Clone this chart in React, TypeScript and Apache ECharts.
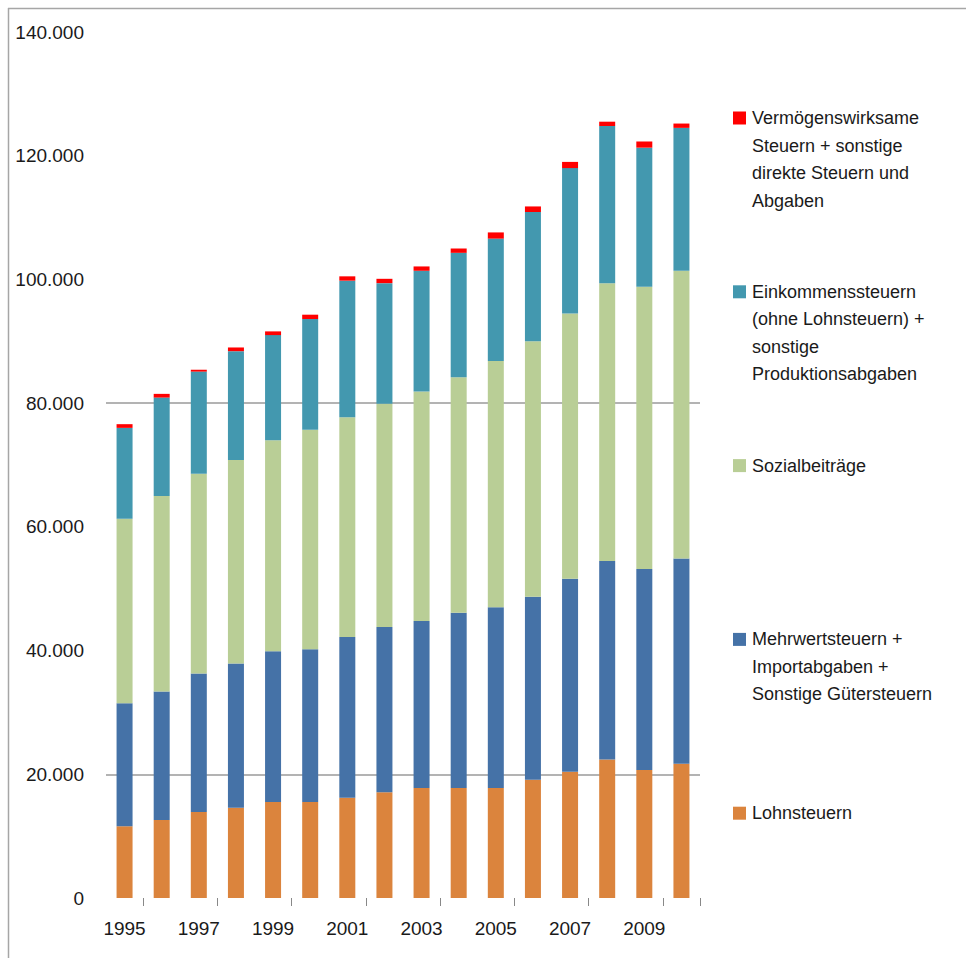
import React, { useEffect, useRef } from 'react';
import * as echarts from 'echarts';

const years = ['1995', '1996', '1997', '1998', '1999', '2000', '2001', '2002', '2003', '2004', '2005', '2006', '2007', '2008', '2009', '2010'];

// stacked from bottom to top
const lohnsteuern = [11600, 12600, 13900, 14600, 15500, 15500, 16200, 17100, 17800, 17800, 17800, 19100, 20400, 22400, 20700, 21700];
const mehrwertsteuern = [19900, 20800, 22400, 23300, 24400, 24700, 26000, 26700, 27000, 28300, 29200, 29600, 31200, 32100, 32500, 33200];
const sozialbeitraege = [29800, 31600, 32300, 32900, 34100, 35500, 35500, 36100, 37100, 38100, 39800, 41300, 42900, 44900, 45600, 46500];
const einkommenssteuern = [14700, 15900, 16500, 17600, 17000, 17900, 22100, 19500, 19500, 20100, 19800, 20900, 23500, 25400, 22500, 23100];
const vermoegenssteuern = [600, 600, 300, 600, 600, 700, 700, 700, 700, 700, 1000, 900, 1000, 700, 1000, 700];

const seriesNames = [
  'Lohnsteuern',
  'Mehrwertsteuern + Importabgaben + Sonstige Gütersteuern',
  'Sozialbeiträge',
  'Einkommenssteuern (ohne Lohnsteuern) + sonstige Produktionsabgaben',
  'Vermögenswirksame Steuern + sonstige direkte Steuern und Abgaben',
];
const seriesData = [lohnsteuern, mehrwertsteuern, sozialbeitraege, einkommenssteuern, vermoegenssteuern];
const seriesColors = ['#DB843D', '#4572A7', '#B9CE96', '#4398AF', '#FF0000'];

// legend, top to bottom
const legendLabels = [
  'Vermögenswirksame\nSteuern + sonstige\ndirekte Steuern und\nAbgaben',
  'Einkommenssteuern\n(ohne Lohnsteuern) +\nsonstige\nProduktionsabgaben',
  'Sozialbeiträge',
  'Mehrwertsteuern +\nImportabgaben +\nSonstige Gütersteuern',
  'Lohnsteuern',
];
const legendColors = ['#FF0000', '#4398AF', '#B9CE96', '#4572A7', '#DB843D'];

const yMin = 0;
const yMax = 140000;
const yInterval = 20000;
const gridLineValues = [20000, 80000];

const FONT = "'Liberation Sans', Arial, sans-serif";

function formatThousands(v: number): string {
  return String(v).replace(/\B(?=(\d{3})+(?!\d))/g, '.');
}

export default function App() {
  const ref = useRef<HTMLDivElement>(null);

  useEffect(() => {
    if (!ref.current) return;
    const chart = echarts.init(ref.current, undefined, { renderer: 'svg' });

    const legendGraphics: any[] = [];
    legendLabels.forEach((label, i) => {
      const cy = 118 + i * 173.8;
      legendGraphics.push({
        type: 'rect',
        shape: { x: 733, y: cy - 6.5, width: 13, height: 13 },
        style: { fill: legendColors[i] },
      });
      legendGraphics.push({
        type: 'text',
        x: 752,
        y: cy - 13.75,
        style: {
          text: label,
          fontSize: 18,
          lineHeight: 27.5,
          fontFamily: FONT,
          fill: '#1a1a1a',
          verticalAlign: 'top',
          align: 'left',
        },
      });
    });

    const series: any[] = seriesNames.map((name, i) => ({
      name,
      type: 'bar',
      stack: 'total',
      barWidth: 16,
      data: seriesData[i],
      itemStyle: { color: seriesColors[i] },
      emphasis: { disabled: true },
      ...(i === 0
        ? {
            markLine: {
              z: 1,
              silent: true,
              symbol: 'none',
              label: { show: false },
              lineStyle: { color: '#9a9a9a', width: 1.5, type: 'solid' },
              data: gridLineValues.map((v) => ({ yAxis: v })),
            },
          }
        : {}),
    }));

    chart.setOption({
      animation: false,
      backgroundColor: '#ffffff',
      textStyle: { fontFamily: FONT },
      grid: { left: 106, right: 266, top: 32, bottom: 60, containLabel: false },
      xAxis: {
        type: 'category',
        data: years,
        boundaryGap: true,
        axisLine: { show: false },
        axisTick: {
          show: true,
          length: 8,
          interval: (index: number) => index % 2 === 1,
          lineStyle: { color: '#888888', width: 1 },
        },
        axisLabel: {
          interval: 1,
          fontSize: 19,
          color: '#1a1a1a',
          margin: 21,
          fontFamily: FONT,
        },
        splitLine: { show: false },
      },
      yAxis: {
        type: 'value',
        min: yMin,
        max: yMax,
        interval: yInterval,
        axisLine: { show: false },
        axisTick: { show: false },
        splitLine: { show: false },
        axisLabel: {
          fontSize: 19,
          color: '#1a1a1a',
          margin: 22,
          fontFamily: FONT,
          formatter: (v: number) => formatThousands(v),
        },
      },
      graphic: [
        {
          type: 'line',
          shape: { x1: 8, y1: 8.5, x2: 966, y2: 8.5 },
          style: { stroke: '#a6a6a6', lineWidth: 1.5 },
        },
        {
          type: 'line',
          shape: { x1: 8.5, y1: 8, x2: 8.5, y2: 958 },
          style: { stroke: '#a6a6a6', lineWidth: 1.5 },
        },
        ...legendGraphics,
      ],
      series,
    });

    return () => {
      chart.dispose();
    };
  }, []);

  return (
    <div
      ref={ref}
      style={{ position: 'absolute', left: 0, top: 0, width: 966, height: 958 }}
    />
  );
}
